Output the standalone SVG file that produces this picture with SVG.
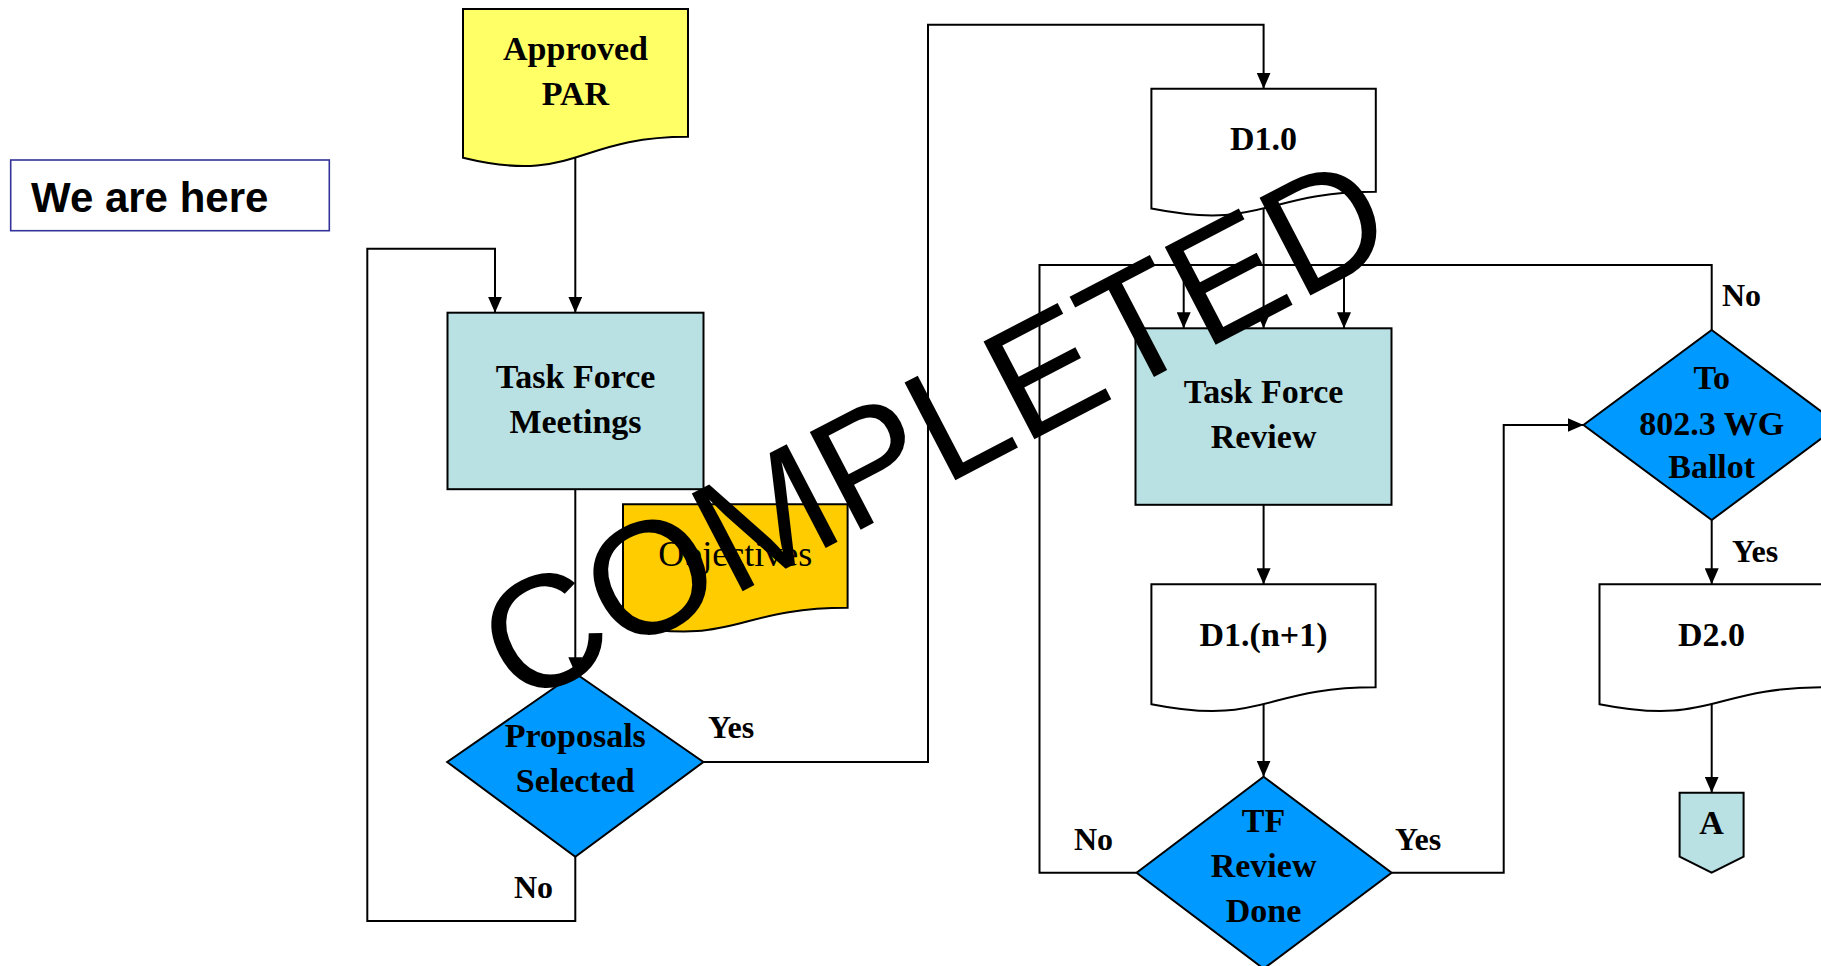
<svg xmlns="http://www.w3.org/2000/svg" width="1821" height="966" viewBox="0 0 1821 966">
<style>
.node{stroke:#000;stroke-width:2}
.proc{fill:#B9E0E3}
.dec{fill:#0099FF}
.doc{fill:#fff}
.lbl{font-family:"Liberation Serif","Times New Roman",serif;font-weight:bold;font-size:34px;fill:#000;text-anchor:middle}
.yn{font-family:"Liberation Serif","Times New Roman",serif;font-weight:bold;font-size:32px;fill:#000}
.conn{fill:none;stroke:#000;stroke-width:2}
</style>
<defs>
<marker id="ah" markerUnits="userSpaceOnUse" markerWidth="16" markerHeight="14" refX="16" refY="7" orient="auto">
<path d="M0,0 L16,7 L0,14 z" fill="#000"/>
</marker>
</defs>
<rect width="1821" height="966" fill="#fff"/>

<g id="we-are-here">
<rect x="10.7" y="160" width="318.6" height="70.7" fill="#fff" stroke="#333399" stroke-width="1.6"/>
<text x="31" y="211.5" font-family="Liberation Sans, Arial, sans-serif" font-weight="bold" font-size="42">We are here</text>
</g>

<g id="connectors">
<path class="conn" d="M575.3,157.5 V312.7" marker-end="url(#ah)"/>
<path class="conn" d="M575.3,856.7 V921 H367.3 V248.7 H495 V312.7" marker-end="url(#ah)"/>
<path class="conn" d="M575.3,489.2 V673.3" marker-end="url(#ah)"/>
<path class="conn" d="M703.4,762 H928 V24.7 H1263.6 V88.7" marker-end="url(#ah)"/>
<path class="conn" d="M1263.6,208.5 V328.3" marker-end="url(#ah)"/>
<path class="conn" d="M1136.6,872.7 H1039.5 V265 H1711.7 V330"/>
<path class="conn" d="M1183.7,265 V328.3" marker-end="url(#ah)"/>
<path class="conn" d="M1344,265 V328.3" marker-end="url(#ah)"/>
<path class="conn" d="M1263.6,504.8 V584.3" marker-end="url(#ah)"/>
<path class="conn" d="M1263.6,704 V776.7" marker-end="url(#ah)"/>
<path class="conn" d="M1391.6,872.7 H1503.7 V425 H1583.5" marker-end="url(#ah)"/>
<path class="conn" d="M1711.7,519.5 V584.3" marker-end="url(#ah)"/>
<path class="conn" d="M1711.7,704 V792.7" marker-end="url(#ah)"/>
<text class="yn" x="708" y="738">Yes</text>
<text class="yn" x="514" y="898">No</text>
<text class="yn" x="1722" y="306">No</text>
<text class="yn" x="1074" y="850">No</text>
<text class="yn" x="1395" y="850">Yes</text>
<text class="yn" x="1732" y="562">Yes</text>
</g>

<g id="approved-par">
<path class="node" fill="#FFFF66" d="M463,9 H688 V136.7 C575.5,136.7 575.5,185.1 463,157.7 Z"/>
<text class="lbl" x="575.5"><tspan x="575.5" y="60">Approved</tspan><tspan x="575.5" y="105">PAR</tspan></text>
</g>

<g id="task-force-meetings">
<rect class="node proc" x="447.5" y="312.7" width="256" height="176.5"/>
<text class="lbl"><tspan x="575.5" y="388">Task Force</tspan><tspan x="575.5" y="433">Meetings</tspan></text>
</g>

<g id="objectives">
<path class="node" fill="#FFCC00" d="M623,504.3 H847.6 V607.7 C735.3,607.7 735.3,647 623,624.7 Z"/>
<text x="735.3" y="566" font-family="Liberation Serif, Times New Roman, serif" font-size="36" text-anchor="middle">Objectives</text>
</g>

<g id="proposals-selected">
<path class="node dec" d="M575.3,673.3 L703.4,762 L575.3,856.7 L447.2,762 Z"/>
<text class="lbl"><tspan x="575.3" y="747">Proposals</tspan><tspan x="575.3" y="792">Selected</tspan></text>
</g>

<g id="d1-0">
<path class="node doc" d="M1151.4,88.7 H1375.8 V191.7 C1263.6,191.7 1263.6,230.9 1151.4,208.6 Z"/>
<text class="lbl" x="1263.6" y="150">D1.0</text>
</g>

<g id="task-force-review">
<rect class="node proc" x="1135.5" y="328.3" width="256" height="176.5"/>
<text class="lbl"><tspan x="1263.6" y="403">Task Force</tspan><tspan x="1263.6" y="448">Review</tspan></text>
</g>

<g id="d1-n1">
<path class="node doc" d="M1151.4,584.3 H1375.6 V687.3 C1263.5,687.3 1263.5,726.5 1151.4,704.2 Z"/>
<text class="lbl" x="1263.5" y="646">D1.(n+1)</text>
</g>

<g id="tf-review-done">
<path class="node dec" d="M1263.6,776.7 L1391.6,872.7 L1263.6,968.7 L1136.6,872.7 Z"/>
<text class="lbl"><tspan x="1263.6" y="832">TF</tspan><tspan x="1263.6" y="877">Review</tspan><tspan x="1263.6" y="922">Done</tspan></text>
</g>

<g id="to-802-3-wg-ballot">
<path class="node dec" d="M1711.7,330 L1839.5,425 L1711.7,520 L1583.5,425 Z"/>
<text class="lbl"><tspan x="1711.7" y="389">To</tspan><tspan x="1711.7" y="435">802.3 WG</tspan><tspan x="1711.7" y="478">Ballot</tspan></text>
</g>

<g id="d2-0">
<path class="node doc" d="M1599.5,584.3 H1823.7 V687.3 C1711.6,687.3 1711.6,726.5 1599.5,704.2 Z"/>
<text class="lbl" x="1711.6" y="646">D2.0</text>
</g>

<g id="connector-a">
<path class="node proc" d="M1679.6,792.7 H1743.6 V856.7 L1711.6,872.7 L1679.6,856.7 Z"/>
<text class="lbl" x="1711.6" y="834">A</text>
</g>

<g id="watermark">
<text transform="translate(518,708) rotate(-27.5)" x="0" y="0" font-family="Liberation Sans, Arial, sans-serif" font-size="160" fill="#000">COMPLETED</text>
</g>
</svg>
